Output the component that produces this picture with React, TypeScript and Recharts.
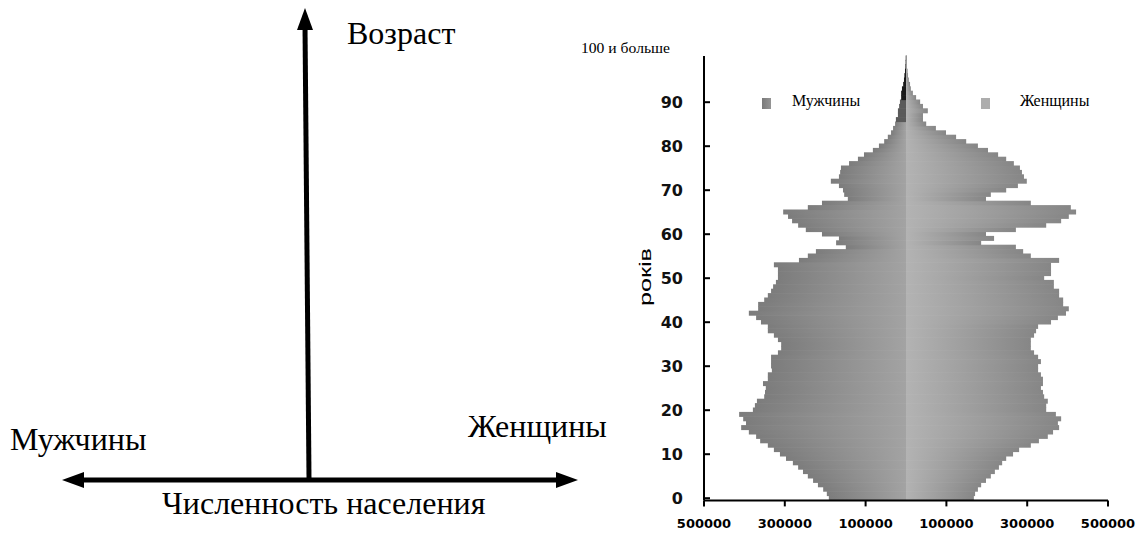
import React from 'react';
import { BarChart, Bar, XAxis, YAxis, Cell } from 'recharts';

// single years of age, 0 .. "100 и больше"
const ages = Array.from({ length: 101 }, (_, i) => i);

// persons by single year of age
const maleValues = [
  191000, 196000, 205000, 218000, 230000, 243000, 255000, 267000, 280000, 297000,
  312000, 327000, 342000, 361000, 371000, 389000, 408000, 396000, 403000, 413000,
  379000, 374000, 369000, 351000, 349000, 347000, 354000, 342000, 342000, 332000,
  334000, 334000, 334000, 317000, 309000, 309000, 317000, 327000, 342000, 342000,
  359000, 371000, 389000, 366000, 366000, 351000, 342000, 334000, 329000, 322000,
  317000, 317000, 317000, 327000, 265000, 243000, 223000, 149000, 173000, 166000,
  208000, 248000, 267000, 282000, 292000, 304000, 243000, 208000, 144000, 153000,
  156000, 166000, 186000, 166000, 163000, 161000, 141000, 119000, 104000, 82000,
  67000, 54000, 45000, 37000, 32000, 27000, 25000, 20000, 20000, 17000,
  15000, 12000, 12000, 10000, 7000, 5000, 4000, 2500, 1500, 1000,
  700,
];

const femaleValues = [
  168000, 171000, 178000, 186000, 198000, 210000, 220000, 230000, 238000, 248000,
  265000, 280000, 309000, 329000, 351000, 364000, 379000, 376000, 384000, 371000,
  347000, 347000, 351000, 342000, 339000, 334000, 339000, 339000, 334000, 327000,
  327000, 334000, 327000, 317000, 309000, 309000, 309000, 317000, 322000, 327000,
  359000, 376000, 396000, 403000, 389000, 389000, 379000, 379000, 366000, 366000,
  342000, 359000, 359000, 359000, 379000, 309000, 290000, 272000, 186000, 218000,
  198000, 272000, 347000, 384000, 403000, 421000, 408000, 309000, 198000, 210000,
  248000, 277000, 299000, 292000, 287000, 282000, 267000, 248000, 228000, 203000,
  178000, 149000, 124000, 99000, 74000, 50000, 42000, 42000, 54000, 42000,
  35000, 25000, 17000, 12000, 10000, 7000, 5000, 4000, 2500, 1500,
  1000,
];

const ageTicks = [0, 10, 20, 30, 40, 50, 60, 70, 80, 90];
const populationTicks = [-500000, -300000, -100000, 100000, 300000, 500000];

const data = ages.map((age, i) => ({
  age,
  male: -maleValues[i],
  female: femaleValues[i],
}));

const Y_TICK_MARGIN = 21;

function AgeTick(props: any) {
  const { x, y, payload } = props;
  if (!ageTicks.includes(payload.value)) return <g />;
  const axisX = x + Y_TICK_MARGIN;
  return (
    <g>
      <line x1={axisX} x2={axisX + 6} y1={y} y2={y} stroke="#000" strokeWidth={2} />
      <text
        x={x}
        y={y}
        dy={6}
        textAnchor="end"
        fontFamily="DejaVu Sans"
        fontWeight="bold"
        fontSize={16}
        fill="#111"
      >
        {payload.value}
      </text>
    </g>
  );
}

// rows of the pyramid touch each other, no white seams between years
function PyramidRow(props: any) {
  const { x, y, width, height, fill } = props;
  if (width == null || height == null) return <g />;
  const left = Math.min(x, x + width);
  const w = Math.max(Math.abs(width), 0.8);
  return <rect x={left} y={y - 0.5} width={w} height={height + 1} fill={fill} />;
}

const serif = '"Liberation Serif", "Times New Roman", serif';

export default function App() {
  return (
    <div
      style={{
        position: 'absolute',
        left: 0,
        top: 0,
        width: 1136,
        height: 535,
        background: '#fff',
        overflow: 'hidden',
      }}
    >
      {/* schematic on the left + labels around the pyramid */}
      <svg
        width={1136}
        height={535}
        style={{ position: 'absolute', left: 0, top: 0 }}
      >
        <line x1={309} y1={478} x2={305} y2={26} stroke="#000" strokeWidth={5} />
        <polygon points="305,8 297,30 313,30" fill="#000" />
        <line x1={80} y1={480} x2={560} y2={480} stroke="#000" strokeWidth={5} />
        <polygon points="62,480 84,472 84,488" fill="#000" />
        <polygon points="578,480 556,472 556,488" fill="#000" />

        <text x={347} y={44} fontFamily={serif} fontSize={32} fill="#000">
          Возраст
        </text>
        <text x={10} y={450} fontFamily={serif} fontSize={32} fill="#000">
          Мужчины
        </text>
        <text x={468} y={437} fontFamily={serif} fontSize={32} fill="#000">
          Женщины
        </text>
        <text x={162} y={514} fontFamily={serif} fontSize={32} fill="#000">
          Численность населения
        </text>

        <text
          x={581}
          y={53}
          fontFamily={serif}
          fontSize={14}
          textLength={89}
          lengthAdjust="spacingAndGlyphs"
          fill="#000"
        >
          100 и больше
        </text>
        <text
          x={651}
          y={277}
          transform="rotate(-90 651 277)"
          textAnchor="middle"
          fontFamily="Liberation Sans"
          fontSize={16}
          textLength={58}
          lengthAdjust="spacingAndGlyphs"
          fill="#000"
        >
          років
        </text>

        <defs>
          <linearGradient id="legMale" x1="0" x2="1" y1="0" y2="0">
            <stop offset="0%" stopColor="#7a7a7a" />
            <stop offset="100%" stopColor="#959595" />
          </linearGradient>
        </defs>
        <rect x={762} y={98} width={9} height={11} fill="url(#legMale)" />
        <text x={792} y={106} fontFamily={serif} fontSize={16} fill="#000">
          Мужчины
        </text>
        <rect x={981} y={98} width={9} height={11} fill="#adadad" />
        <text x={1020} y={106} fontFamily={serif} fontSize={16} fill="#000">
          Женщины
        </text>
      </svg>

      <div style={{ position: 'absolute', left: 560, top: 0 }}>
        <BarChart
          width={576}
          height={535}
          data={data}
          layout="vertical"
          stackOffset="sign"
          barCategoryGap={0}
          barGap={0}
          margin={{ top: 56, right: 28, bottom: 4.6, left: 0 }}
        >
          <defs>
            <linearGradient id="maleGrad" x1="0" x2="1" y1="0" y2="0">
              <stop offset="0%" stopColor="#7c7c7c" />
              <stop offset="100%" stopColor="#a3a3a3" />
            </linearGradient>
            <linearGradient id="femaleGrad" x1="0" x2="1" y1="0" y2="0">
              <stop offset="0%" stopColor="#b3b3b3" />
              <stop offset="100%" stopColor="#868686" />
            </linearGradient>
          </defs>
          <XAxis
            type="number"
            domain={[-500000, 500000]}
            ticks={populationTicks}
            allowDataOverflow
            tickFormatter={(v: number) => String(Math.abs(v))}
            axisLine={{ stroke: '#000', strokeWidth: 2 }}
            tickLine={{ stroke: '#000', strokeWidth: 2 }}
            tickSize={6}
            tickMargin={12}
            height={30}
            interval={0}
            tick={{
              fill: '#000',
              fontSize: 13,
              fontWeight: 'bold',
              fontFamily: 'DejaVu Sans',
            }}
          />
          <YAxis
            type="category"
            dataKey="age"
            reversed
            width={144}
            interval={0}
            axisLine={{ stroke: '#000', strokeWidth: 2 }}
            tickLine={false}
            tickSize={0}
            tickMargin={Y_TICK_MARGIN}
            tick={<AgeTick />}
          />
          <Bar
            dataKey="male"
            stackId="pop"
            fill="url(#maleGrad)"
            shape={<PyramidRow />}
            isAnimationActive={false}
          >
            {data.map((d) => (
              <Cell
                key={`m${d.age}`}
                fill={d.age >= 91 ? '#1a1a1a' : d.age >= 86 ? '#5a5a5a' : 'url(#maleGrad)'}
              />
            ))}
          </Bar>
          <Bar
            dataKey="female"
            stackId="pop"
            fill="url(#femaleGrad)"
            shape={<PyramidRow />}
            isAnimationActive={false}
          />
        </BarChart>
      </div>
    </div>
  );
}
